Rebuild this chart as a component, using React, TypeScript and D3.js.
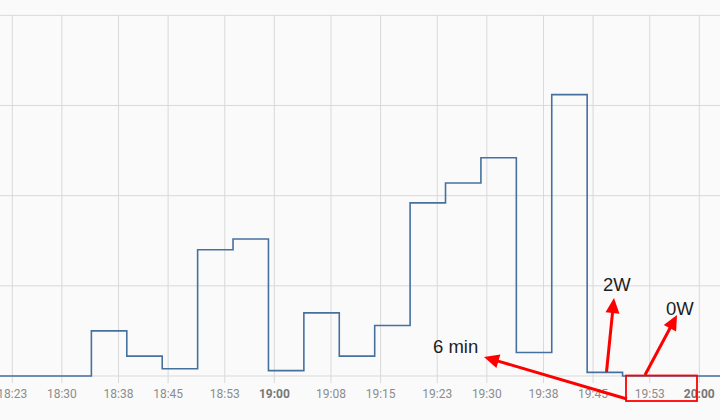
import React from "react";
import * as d3 from "d3";

const stepTimes = [
  "18:15:00", "18:34:10", "18:39:10", "18:44:10", "18:49:10", "18:54:10", "18:59:10",
  "19:04:10", "19:09:10", "19:14:10", "19:19:10", "19:24:10", "19:29:10",
  "19:34:10", "19:39:10", "19:44:10", "19:49:10", "20:10:00",
];
const stepValues = [0, 25, 11, 4, 70, 76, 3, 35, 11, 28, 96, 107, 121, 13, 156, 2, 0, 0];

const tickTimes = [
  "18:23", "18:30", "18:38", "18:45", "18:53", "19:00", "19:08",
  "19:15", "19:23", "19:30", "19:38", "19:45", "19:53", "20:00",
];
const yTicks = [0, 50, 100, 150, 200];

const annotations = [
  { text: "6 min", tx: 433, ty: 353, from: [627, 399], to: [484, 357] },
  { text: "2W", tx: 603, ty: 291, from: [606.5, 372], to: [614, 298] },
  { text: "0W", tx: 666, ty: 315, from: [645, 375], to: [677, 315] },
];

const W = 720;
const H = 420;

const parseT = d3.timeParse("%H:%M:%S");
const parseM = d3.timeParse("%H:%M");

export default function App() {
  const x = d3
    .scaleTime()
    .domain([parseM("18:23")!, parseM("20:00")!])
    .range([12.3, 699.3]);
  const y = d3.scaleLinear().domain([0, 200]).range([376, 15.3]);

  const pts = stepTimes.map((s, i) => ({ t: parseT(s)!, v: stepValues[i] }));
  const line = d3
    .line<{ t: Date; v: number }>()
    .x((d) => x(d.t))
    .y((d) => y(d.v))
    .curve(d3.curveStepAfter);

  const grid = "#d9d9d9";

  const arrowHead = (from: number[], to: number[]) => {
    const dx = to[0] - from[0];
    const dy = to[1] - from[1];
    const len = Math.hypot(dx, dy);
    const ux = dx / len, uy = dy / len;
    const L = 15, Wd = 7;
    const bx = to[0] - ux * L, by = to[1] - uy * L;
    const px = -uy, py = ux;
    return {
      points: `${to[0]},${to[1]} ${bx + px * Wd},${by + py * Wd} ${bx - px * Wd},${by - py * Wd}`,
      end: [bx + ux * 2, by + uy * 2],
    };
  };

  return (
    <svg
      width={W}
      height={H}
      style={{ position: "absolute", left: 0, top: 0, background: "#fafafa" }}
    >
      <rect width={W} height={H} fill="#fafafa" />
      <defs>
        <clipPath id="plot">
          <rect x={0} y={0} width={W} height={380} />
        </clipPath>
      </defs>
      {yTicks.map((v) => (
        <line key={v} x1={0} x2={W} y1={y(v)} y2={y(v)} stroke={grid} strokeWidth={1} />
      ))}
      {tickTimes.map((s) => {
        const xx = x(parseM(s)!);
        const bold = s.endsWith(":00");
        return (
          <g key={s}>
            <line x1={xx} x2={xx} y1={y(200)} y2={383} stroke={grid} strokeWidth={1} />
            <text
              x={xx}
              y={397.5}
              textAnchor="middle"
              fontFamily="Roboto, sans-serif"
              fontSize={12}
              fontWeight={bold ? 700 : 400}
              fill={bold ? "#777" : "#8c8c8c"}
            >
              {s}
            </text>
          </g>
        );
      })}
      <path
        d={line(pts) || ""}
        fill="none"
        stroke="#46719f"
        strokeWidth={1.6}
        clipPath="url(#plot)"
      />
      <rect x={626} y={375.5} width={71} height={25.5} fill="none" stroke="#ff0000" strokeWidth={1.8} />
      {annotations.map((a) => {
        const h = arrowHead(a.from, a.to);
        return (
          <g key={a.text}>
            <line x1={a.from[0]} y1={a.from[1]} x2={h.end[0]} y2={h.end[1]} stroke="#ff0000" strokeWidth={3} />
            <polygon points={h.points} fill="#ff0000" />
            <text
              x={a.tx}
              y={a.ty}
              fontFamily="'Liberation Sans', Arial, sans-serif"
              fontSize={18.5}
              fill="#1e1e1e"
            >
              {a.text}
            </text>
          </g>
        );
      })}
    </svg>
  );
}
